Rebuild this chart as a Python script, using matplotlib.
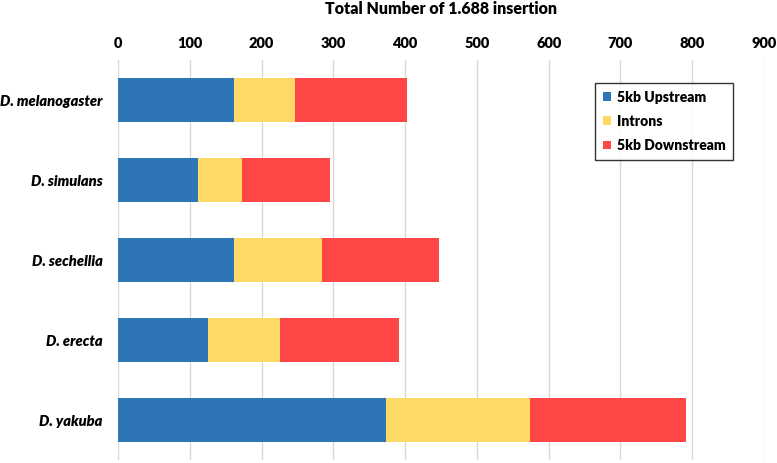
import matplotlib.pyplot as plt
import numpy as np

species = ["D. melanogaster", "D. simulans", "D. sechellia", "D. erecta", "D. yakuba"]
upstream = [161, 111, 161, 125, 373]
introns = [85, 62, 123, 101, 201]
downstream = [156, 122, 163, 165, 217]
x_ticks = [0, 100, 200, 300, 400, 500, 600, 700, 800, 900]

plt.rcParams['font.family'] = ['Lato', 'DejaVu Sans']

fig = plt.figure(figsize=(7.77, 4.63), dpi=100)
ax = fig.add_axes([118 / 777, 3 / 463, (764 - 118) / 777, 400 / 463])

y = np.arange(len(species))
up = np.array(upstream)
intr = np.array(introns)
down = np.array(downstream)

ax.barh(y, up, height=0.56, color='#2E75B6', label='5kb Upstream', zorder=3)
ax.barh(y, intr, left=up, height=0.56, color='#FFD966', label='Introns', zorder=3)
ax.barh(y, down, left=up + intr, height=0.56, color='#FF4747', label='5kb Downstream', zorder=3)

ax.set_xlim(0, 900)
ax.set_ylim(len(species) - 0.5, -0.5)
ax.set_xticks(x_ticks)
ax.xaxis.tick_top()
ax.tick_params(axis='x', length=0, pad=7, labelsize=10.5)
ax.tick_params(axis='y', length=0, pad=11, labelsize=10.5)
for lbl in ax.get_xticklabels():
    lbl.set_fontweight('heavy')
ax.set_yticks(y)
ax.set_yticklabels(species, fontweight='heavy', fontstyle='italic')

ax.grid(axis='x', color='#d9d9d9', linewidth=1, zorder=0)
for s in ax.spines.values():
    s.set_visible(False)

fig.text(441 / 777, 1 - 9 / 463, 'Total Number of 1.688 insertion', ha='center', va='center',
         fontsize=11.5, fontweight='heavy')

leg = ax.legend(loc='upper right', bbox_to_anchor=(0.952, 0.9425), borderaxespad=0,
                frameon=True, fancybox=False, edgecolor='black',
                handlelength=0.6, handleheight=0.6, handletextpad=0.4,
                prop={'weight': 'heavy', 'size': 10}, borderpad=0.55, labelspacing=0.8)
leg.get_frame().set_linewidth(1)

fig.savefig('out.png', dpi=100)
